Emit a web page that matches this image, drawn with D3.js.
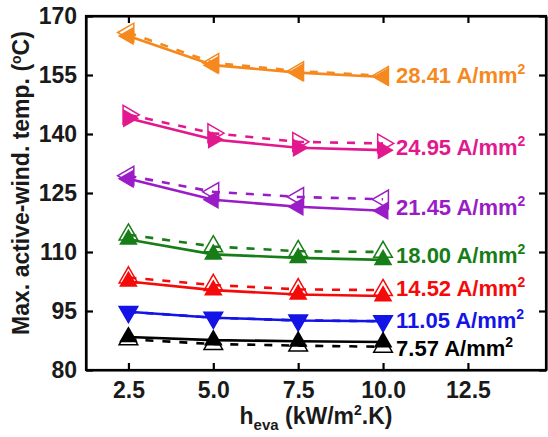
<!DOCTYPE html>
<html><head><meta charset="utf-8">
<script src="https://cdn.jsdelivr.net/npm/d3@7"></script>
<style>body{margin:0;background:#fff}svg{display:block}text{font-family:"Liberation Sans",Arial,sans-serif;font-weight:bold}</style>
</head><body><svg id="c" width="548" height="437"></svg>
<script>
const hEva = [2.5, 5.0, 7.5, 10.0];
const currents = ["28.41", "24.95", "21.45", "18.00", "14.52", "11.05", "7.57"];
const colors = ["#F5891E", "#E2198E", "#9A1CC6", "#177D17", "#F50A0A", "#1414E6", "#000000"];
const shapes = ["left", "right", "left", "up", "up", "down", "up"];
const solidVals = [
  [164.9, 157.5, 155.6, 154.5],
  [144.0, 138.6, 136.5, 135.9],
  [128.6, 123.3, 121.5, 120.5],
  [113.2, 109.4, 108.5, 108.0],
  [102.5, 100.3, 99.2, 98.8],
  [94.8, 93.3, 92.6, 92.4],
  [88.4, 87.6, 87.3, 87.1]
];
const dashedVals = [
  [165.8, 158.1, 156.0, 154.8],
  [144.9, 140.2, 138.0, 137.6],
  [129.4, 125.3, 124.0, 123.4],
  [114.4, 111.4, 110.2, 110.0],
  [103.5, 101.6, 100.5, 100.3],
  [94.8, 93.3, 92.6, 92.4],
  [87.8, 86.6, 86.2, 85.9]
];
const labelAt = [155.0, 136.7, 121.4, 109.2, 100.8, 92.7, 85.6];
const xTicks = [2.5, 5.0, 7.5, 10.0, 12.5];
const yTicks = [80, 95, 110, 125, 140, 155, 170];

const svg = d3.select("#c");
const L = 86, R = 546, T = 16, B = 370;
const x = d3.scaleLinear().domain([1.25, 14.8]).range([L, R]);
const y = d3.scaleLinear().domain([80, 170]).range([B, T]);

// axes
const axStyle = g => { g.selectAll("path").attr("stroke", "#000").attr("stroke-width", 2.2);
  g.selectAll("line").attr("stroke", "#000").attr("stroke-width", 2.2);
  g.selectAll("text").attr("font-size", 23).attr("fill", "#1a1a1a"); };
svg.append("g").attr("transform", `translate(0,${B})`)
  .call(d3.axisBottom(x).tickValues(xTicks).tickSizeInner(-7).tickSizeOuter(0).tickPadding(11).tickFormat(d3.format(".1f")))
  .call(axStyle).call(g => g.selectAll("text").attr("dy", "0.72em"));
svg.append("g").attr("transform", `translate(0,${T})`)
  .call(d3.axisTop(x).tickValues(xTicks).tickSizeInner(-7).tickSizeOuter(0).tickFormat(""))
  .call(axStyle);
svg.append("g").attr("transform", `translate(${L},0)`)
  .call(d3.axisLeft(y).tickValues(yTicks).tickSizeInner(-7).tickSizeOuter(0).tickPadding(9))
  .call(axStyle);
svg.append("g").attr("transform", `translate(${R},0)`)
  .call(d3.axisRight(y).tickValues(yTicks).tickSizeInner(-7).tickSizeOuter(0).tickFormat(""))
  .call(axStyle);
svg.append("rect").attr("x", L).attr("y", T).attr("width", R - L).attr("height", B - T)
  .attr("fill", "none").attr("stroke", "#000").attr("stroke-width", 2.2);

const line = d3.line().x((d, i) => x(hEva[i])).y(d => y(d));
const rot = {up: 0, right: 90, down: 180, left: -90};
const sym = d3.symbol().type(d3.symbolTriangle).size(150);

currents.forEach((c, k) => {
  const g = svg.append("g");
  g.append("path").attr("d", line(dashedVals[k])).attr("fill", "none").attr("stroke", colors[k])
    .attr("stroke-width", 2.6).attr("stroke-dasharray", "8,9");
  g.append("path").attr("d", line(solidVals[k])).attr("fill", "none").attr("stroke", colors[k])
    .attr("stroke-width", 2.6);
  g.selectAll(".o").data(dashedVals[k]).join("path")
    .attr("d", sym).attr("fill", "#fff").attr("fill-opacity", 0).attr("stroke", colors[k]).attr("stroke-width", 1.5)
    .attr("transform", (d, i) => `translate(${x(hEva[i])},${y(d)}) rotate(${rot[shapes[k]]})`);
  g.selectAll(".f").data(solidVals[k]).join("path")
    .attr("d", sym).attr("fill", colors[k])
    .attr("transform", (d, i) => `translate(${x(hEva[i])},${y(d)}) rotate(${rot[shapes[k]]})`);
  const t = svg.append("text").attr("x", x(10) + 13).attr("y", y(labelAt[k])).attr("dy", "0.36em")
    .attr("font-size", 22).attr("fill", colors[k]);
  t.append("tspan").text(c + " A/mm");
  t.append("tspan").attr("dy", -9).attr("font-size", 14).text("2");
});

// axis titles
const yt = svg.append("text").attr("transform", `translate(29,${(T + B) / 2 - 10}) rotate(-90)`)
  .attr("text-anchor", "middle").attr("font-size", 23).attr("fill", "#1a1a1a");
yt.append("tspan").text("Max. active-wind. temp. (");
yt.append("tspan").attr("dy", -8).attr("font-size", 14).text("o");
yt.append("tspan").attr("dy", 8).text("C)");

const xt = svg.append("text").attr("x", (L + R) / 2).attr("y", 424)
  .attr("text-anchor", "middle").attr("font-size", 23).attr("fill", "#1a1a1a");
xt.append("tspan").text("h");
xt.append("tspan").attr("dy", 6).attr("font-size", 15).text("eva");
xt.append("tspan").attr("dy", -6).text(" (kW/m");
xt.append("tspan").attr("dy", -9).attr("font-size", 14).text("2");
xt.append("tspan").attr("dy", 9).text(".K)");
</script></body></html>
